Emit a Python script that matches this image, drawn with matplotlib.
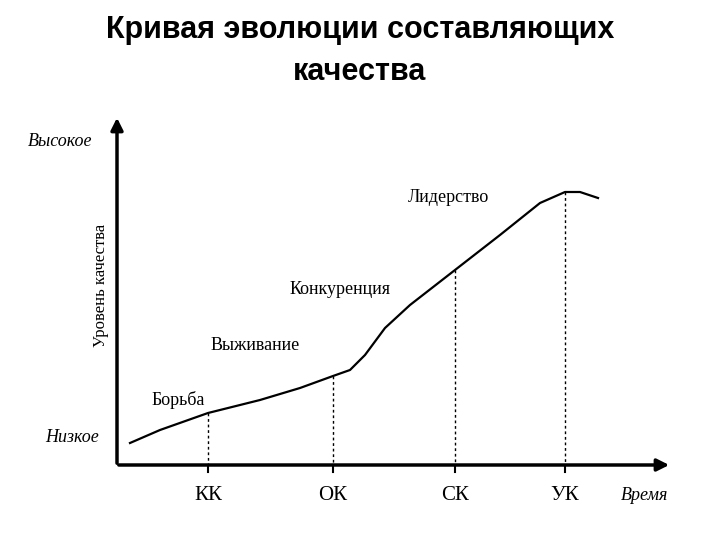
import matplotlib.pyplot as plt

# curve (pixel-like units, y grows downward)
curve_x = [130, 160, 208, 260, 300, 333, 350, 365, 385, 410, 455, 500, 540, 565, 580, 598]
curve_y = [443, 430, 413, 400, 388, 376, 370, 355, 328, 305, 270, 235, 203, 192, 192, 198]
stage_x = [208, 333, 455, 565]
stage_y = [413, 376, 270, 192]
stage_ticks = ["КК", "ОК", "СК", "УК"]
phase_names = ["Борьба", "Выживание", "Конкуренция", "Лидерство"]
phase_pos = [(178, 400), (255, 345), (340, 290), (448, 197)]

fig = plt.figure(figsize=(7.2, 5.4), dpi=100)
ax = fig.add_axes([0, 0, 1, 1])
ax.set_xlim(0, 720)
ax.set_ylim(540, 0)
ax.axis("off")

ax.text(360, 30, "Кривая эволюции составляющих", ha="center", va="center",
        fontsize=22, fontweight="bold", family="Liberation Sans")
ax.text(360, 72, "качества", ha="center", va="center",
        fontsize=22, fontweight="bold", family="Liberation Sans")

# axes with arrows
ax.annotate("", xy=(117, 115), xytext=(117, 466),
            arrowprops=dict(arrowstyle="-|>", color="black", lw=2.5, mutation_scale=18))
ax.annotate("", xy=(672, 465), xytext=(116, 465),
            arrowprops=dict(arrowstyle="-|>", color="black", lw=2.5, mutation_scale=18))

ax.plot(curve_x, curve_y, color="black", lw=1.6)
for x, y in zip(stage_x, stage_y):
    ax.plot([x, x], [y, 465], color="black", lw=1, ls=(0, (2, 2)))
    ax.plot([x, x], [465, 472], color="black", lw=1.5)

serif = "Liberation Serif"
for lbl, x in zip(stage_ticks, stage_x):
    ax.text(x, 495, lbl, ha="center", va="center", fontsize=15, family=serif)
ax.text(645, 495, "Время", ha="center", va="center", fontsize=13, style="italic", family=serif)
ax.text(60, 142, "Высокое", ha="center", va="center", fontsize=13, style="italic", family=serif)
ax.text(72, 438, "Низкое", ha="center", va="center", fontsize=13, style="italic", family=serif)
ax.text(101, 285, "Уровень качества", ha="center", va="center", fontsize=12,
        rotation=90, family=serif)
for name, (x, y) in zip(phase_names, phase_pos):
    ax.text(x, y, name, ha="center", va="center", fontsize=13, family=serif)

fig.savefig("out.png", dpi=100)
